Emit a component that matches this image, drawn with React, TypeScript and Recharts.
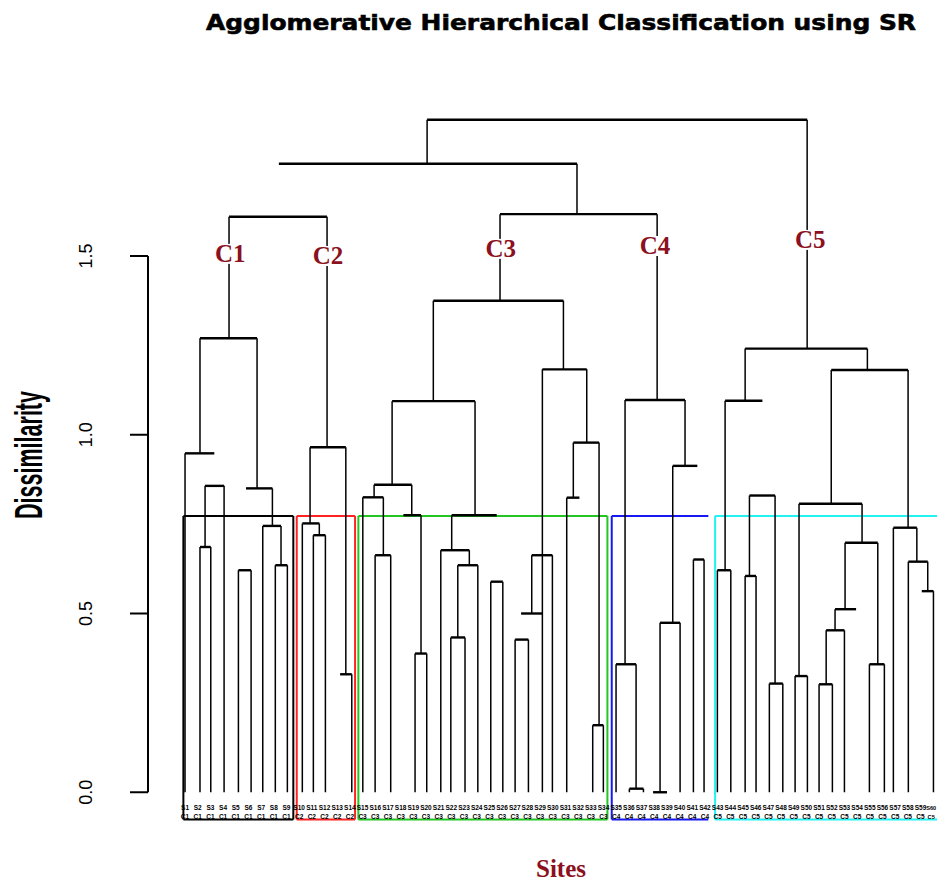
import { ComposedChart, XAxis, YAxis, ReferenceLine, Scatter } from "recharts"

// merge nodes: [left x, right x, height, left leg bottom, right leg bottom]
// x in leaf positions, heights in dissimilarity; null = no leg drawn
type Node = [number, number, number, number | null, number | null]

const topNodes: Node[] = [
  [20.09, 50.06, 1.881, 1.758, 1.241],
  [8.4, 31.91, 1.758, null, 1.617],
  [25.84, 38.23, 1.617, 1.375, 1.097],
  [4.47, 12.2, 1.61, 1.27, 0.965],
]

const c1Nodes: Node[] = [
  [2.18, 6.68, 1.27, 0.948, 0.85],
  [1, 3.31, 0.948, 0, null],
  [2.58, 4.08, 0.857, 0.686, 0],
  [2.18, 3.03, 0.686, 0, 0],
  [5.81, 7.89, 0.85, null, 0.745],
  [7.13, 8.57, 0.745, 0, 0.635],
  [8.12, 9.07, 0.635, 0, 0],
  [5.21, 6.21, 0.621, 0, 0],
]

const c2Nodes: Node[] = [
  [10.86, 13.68, 0.965, 0.752, 0.33],
  [10.25, 11.59, 0.752, 0, 0.719],
  [11.12, 12.07, 0.719, 0, 0],
  [13.23, 14.15, 0.33, null, 0],
]

const c3Nodes: Node[] = [
  [20.58, 30.84, 1.375, 1.094, 1.183],
  [17.33, 23.87, 1.094, 0.86, 0.775],
  [15.91, 18.88, 0.86, 0.825, 0.775],
  [15.02, 16.64, 0.825, 0, 0.663],
  [15.99, 17.22, 0.663, 0, 0],
  [18.22, 19.61, 0.775, null, 0.388],
  [19.14, 20.06, 0.388, 0, 0],
  [22.03, 25.58, 0.775, 0.677, null],
  [21.17, 23.42, 0.677, 0, 0.635],
  [22.51, 24.09, 0.635, 0.433, 0],
  [21.96, 23.08, 0.433, 0, 0],
  [25.11, 26.06, 0.589, 0, 0],
  [29.18, 32.68, 1.183, 0, 0.978],
  [28.34, 29.97, 0.663, 0.5, 0],
  [27.5, 29.18, 0.5, null, null],
  [27.03, 28.08, 0.427, 0, 0],
  [31.62, 33.65, 0.978, 0.824, 0.1875],
  [31.1, 32.1, 0.824, 0, null],
  [33.15, 33.99, 0.1875, 0, 0],
]

const c4Nodes: Node[] = [
  [35.7, 40.43, 1.097, 0.358, 0.913],
  [34.99, 36.57, 0.358, 0, 0.01],
  [36.04, 37.15, 0.01, 0, 0],
  [39.46, 41.4, 0.913, 0.474, null],
  [38.46, 40.04, 0.474, 0, 0],
  [37.91, 39.01, 0, null, null],
  [41.09, 41.93, 0.651, 0, 0],
]

const c5Nodes: Node[] = [
  [45.17, 54.81, 1.241, 1.095, 1.181],
  [43.59, 46.53, 1.095, 0.621, null],
  [42.98, 44.04, 0.621, 0, 0],
  [45.51, 47.53, 0.83, 0.605, 0.304],
  [45.17, 46.03, 0.605, 0, 0],
  [47.08, 48.14, 0.304, 0, 0],
  [51.96, 58.02, 1.181, 0.807, 0.74],
  [49.42, 54.39, 0.807, 0.325, 0.698],
  [49.11, 50.08, 0.325, 0, 0],
  [53.05, 55.63, 0.698, 0.512, 0.358],
  [52.26, 53.92, 0.512, 0.453, null],
  [51.56, 53.0, 0.453, 0.302, 0],
  [51.0, 52.05, 0.302, 0, 0],
  [54.97, 56.15, 0.358, 0, 0],
  [56.86, 58.71, 0.74, 0, 0.645],
  [58.04, 59.57, 0.645, 0, 0.5625],
  [59.1, 60.02, 0.5625, null, 0],
]

// cut level boxes
const cutTop = 0.7725
const cutBottom = -0.076
const clusterNames = ["C1", "C2", "C3", "C4", "C5"]
const boxFrom = [0.87, 9.81, 14.67, 34.65, 42.8]
const boxTo = [9.54, 14.41, 34.31, 42.27, 60.8]
const clusterLabelX = [4.57, 12.28, 25.9, 38.06, 50.3]
const clusterLabelY = [1.506, 1.5, 1.52, 1.528, 1.545]

const yTicks = [0, 0.5, 1, 1.5]

const siteCodes = [
  "S1", "S2", "S3", "S4", "S5", "S6", "S7", "S8", "S9", "S10",
  "S11", "S12", "S13", "S14", "S15", "S16", "S17", "S18", "S19", "S20",
  "S21", "S22", "S23", "S24", "S25", "S26", "S27", "S28", "S29", "S30",
  "S31", "S32", "S33", "S34", "S35", "S36", "S37", "S38", "S39", "S40",
  "S41", "S42", "S43", "S44", "S45", "S46", "S47", "S48", "S49", "S50",
  "S51", "S52", "S53", "S54", "S55", "S56", "S57", "S58", "S59", "S60",
]

const boxColors = ["#000000", "#ff2222", "#22c522", "#1818f0", "#22f2f2"]
const labelRed = "#8b1020"

const allNodes = [...topNodes, ...c1Nodes, ...c2Nodes, ...c3Nodes, ...c4Nodes, ...c5Nodes]

const segments = allNodes.flatMap(([x1, x2, h, b1, b2]) => {
  const s = [{ a: { x: x1, y: h }, b: { x: x2, y: h }, flat: true }]
  if (b1 !== null) s.push({ a: { x: x1, y: h }, b: { x: x1, y: b1 }, flat: false })
  if (b2 !== null) s.push({ a: { x: x2, y: h }, b: { x: x2, y: b2 }, flat: false })
  return s
})

const clusterLabels = clusterNames.map((name, i) => ({ name, x: clusterLabelX[i], y: clusterLabelY[i] }))

const leaves = siteCodes.map((code, i) => {
  const k = boxFrom.findIndex((f, j) => i + 1 >= f && i + 1 <= boxTo[j])
  return { x: i + 1, y: -0.04, code, cluster: clusterNames[k] ?? "" }
})

const renderYTick = (props: any) => {
  const { x, y, payload } = props
  return (
    <text
      transform={`translate(${x - 36},${y}) rotate(-90)`}
      textAnchor="middle"
      fontFamily="Liberation Sans, Arial, sans-serif"
      fontSize={18}
      fill="#000"
    >
      {Number(payload.value).toFixed(1)}
    </text>
  )
}

const renderClusterLabel = (props: any) => {
  const { cx, cy, payload } = props
  return (
    <g>
      <rect x={cx - 16} y={cy - 10} width={32} height={20} fill="#fff" />
      <text
        x={cx}
        y={cy + 8}
        textAnchor="middle"
        fontFamily="Liberation Serif, Times New Roman, serif"
        fontWeight="bold"
        fontSize={25}
        fill={labelRed}
      >
        {payload.name}
      </text>
    </g>
  )
}

const renderLeafLabel = (props: any) => {
  const { cx, cy, payload } = props
  // last label sits against the page edge: a bit smaller and pulled in
  const edge = cx > 926
  const tx = edge ? cx - 2 : cx
  const fs = edge ? 5.6 : 6.5
  return (
    <g fontFamily="Liberation Sans, Arial, sans-serif" fontWeight="900" fontSize={fs} fill="#000" textAnchor="middle">
      <text x={tx} y={cy + 3}>{payload.code}</text>
      <text x={tx} y={cy + 12}>{payload.cluster}</text>
    </g>
  )
}

export default function App() {
  return (
    <div style={{ position: "absolute", left: 0, top: 0, width: 937, height: 882, background: "#fff" }}>
      <ComposedChart width={937} height={882} margin={{ top: 113, right: 0, bottom: 54, left: 0 }}>
        <XAxis type="number" dataKey="x" domain={[-1.92, 60.3]} hide allowDataOverflow />
        <YAxis
          type="number"
          dataKey="y"
          domain={[-0.1, 1.9]}
          ticks={yTicks}
          width={148}
          axisLine={false}
          tickSize={18}
          tickLine={{ stroke: "#000", strokeWidth: 2 }}
          tick={renderYTick}
          interval={0}
          allowDataOverflow
        />
        <ReferenceLine
          segment={[{ x: -1.92, y: 0 }, { x: -1.92, y: 1.5 }]}
          stroke="#000"
          strokeWidth={2}
          ifOverflow="visible"
        />
        {boxFrom.map((f, i) => (
          <ReferenceLine
            key={`bt${i}`}
            segment={[{ x: f, y: cutTop }, { x: boxTo[i], y: cutTop }]}
            stroke={boxColors[i]}
            strokeWidth={2}
            ifOverflow="visible"
          />
        ))}
        {boxFrom.map((f, i) => (
          <ReferenceLine
            key={`bb${i}`}
            segment={[{ x: f, y: cutBottom }, { x: boxTo[i], y: cutBottom }]}
            stroke={boxColors[i]}
            strokeWidth={2}
            ifOverflow="visible"
          />
        ))}
        {boxFrom.map((f, i) => (
          <ReferenceLine
            key={`bl${i}`}
            segment={[{ x: f, y: cutTop }, { x: f, y: cutBottom }]}
            stroke={boxColors[i]}
            strokeWidth={2}
            ifOverflow="visible"
          />
        ))}
        {boxTo.map((t, i) =>
          i === 3 ? null : (
            <ReferenceLine
              key={`br${i}`}
              segment={[{ x: t, y: cutTop }, { x: t, y: cutBottom }]}
              stroke={boxColors[i]}
              strokeWidth={2}
              ifOverflow="visible"
            />
          )
        )}
        {segments.map((s, i) => (
          <ReferenceLine
            key={`s${i}`}
            segment={[s.a, s.b]}
            stroke="#000"
            strokeWidth={s.flat ? 2.4 : 1.5}
            ifOverflow="visible"
          />
        ))}
        <Scatter data={leaves} dataKey="y" isAnimationActive={false} shape={renderLeafLabel} />
        <Scatter data={clusterLabels} dataKey="y" isAnimationActive={false} shape={renderClusterLabel} />
      </ComposedChart>
      <svg
        width={937}
        height={882}
        style={{ position: "absolute", left: 0, top: 0, pointerEvents: "none" }}
      >
        <text
          x={561}
          y={30}
          textAnchor="middle"
          fontFamily="DejaVu Sans, sans-serif"
          fontWeight="bold"
          fontSize={22}
          textLength={710}
          lengthAdjust="spacingAndGlyphs"
          stroke="#000"
          strokeWidth={0.6}
          fill="#000"
        >
          Agglomerative Hierarchical Classification using SR
        </text>
        <text
          transform="translate(42,455) rotate(-90)"
          textAnchor="middle"
          fontFamily="Liberation Sans, Arial, sans-serif"
          fontWeight="bold"
          fontSize={38}
          textLength={128}
          lengthAdjust="spacingAndGlyphs"
          fill="#000"
        >
          Dissimilarity
        </text>
        <text
          x={561}
          y={877}
          textAnchor="middle"
          fontFamily="Liberation Serif, Times New Roman, serif"
          fontWeight="bold"
          fontSize={25}
          fill={labelRed}
        >
          Sites
        </text>
      </svg>
    </div>
  )
}
